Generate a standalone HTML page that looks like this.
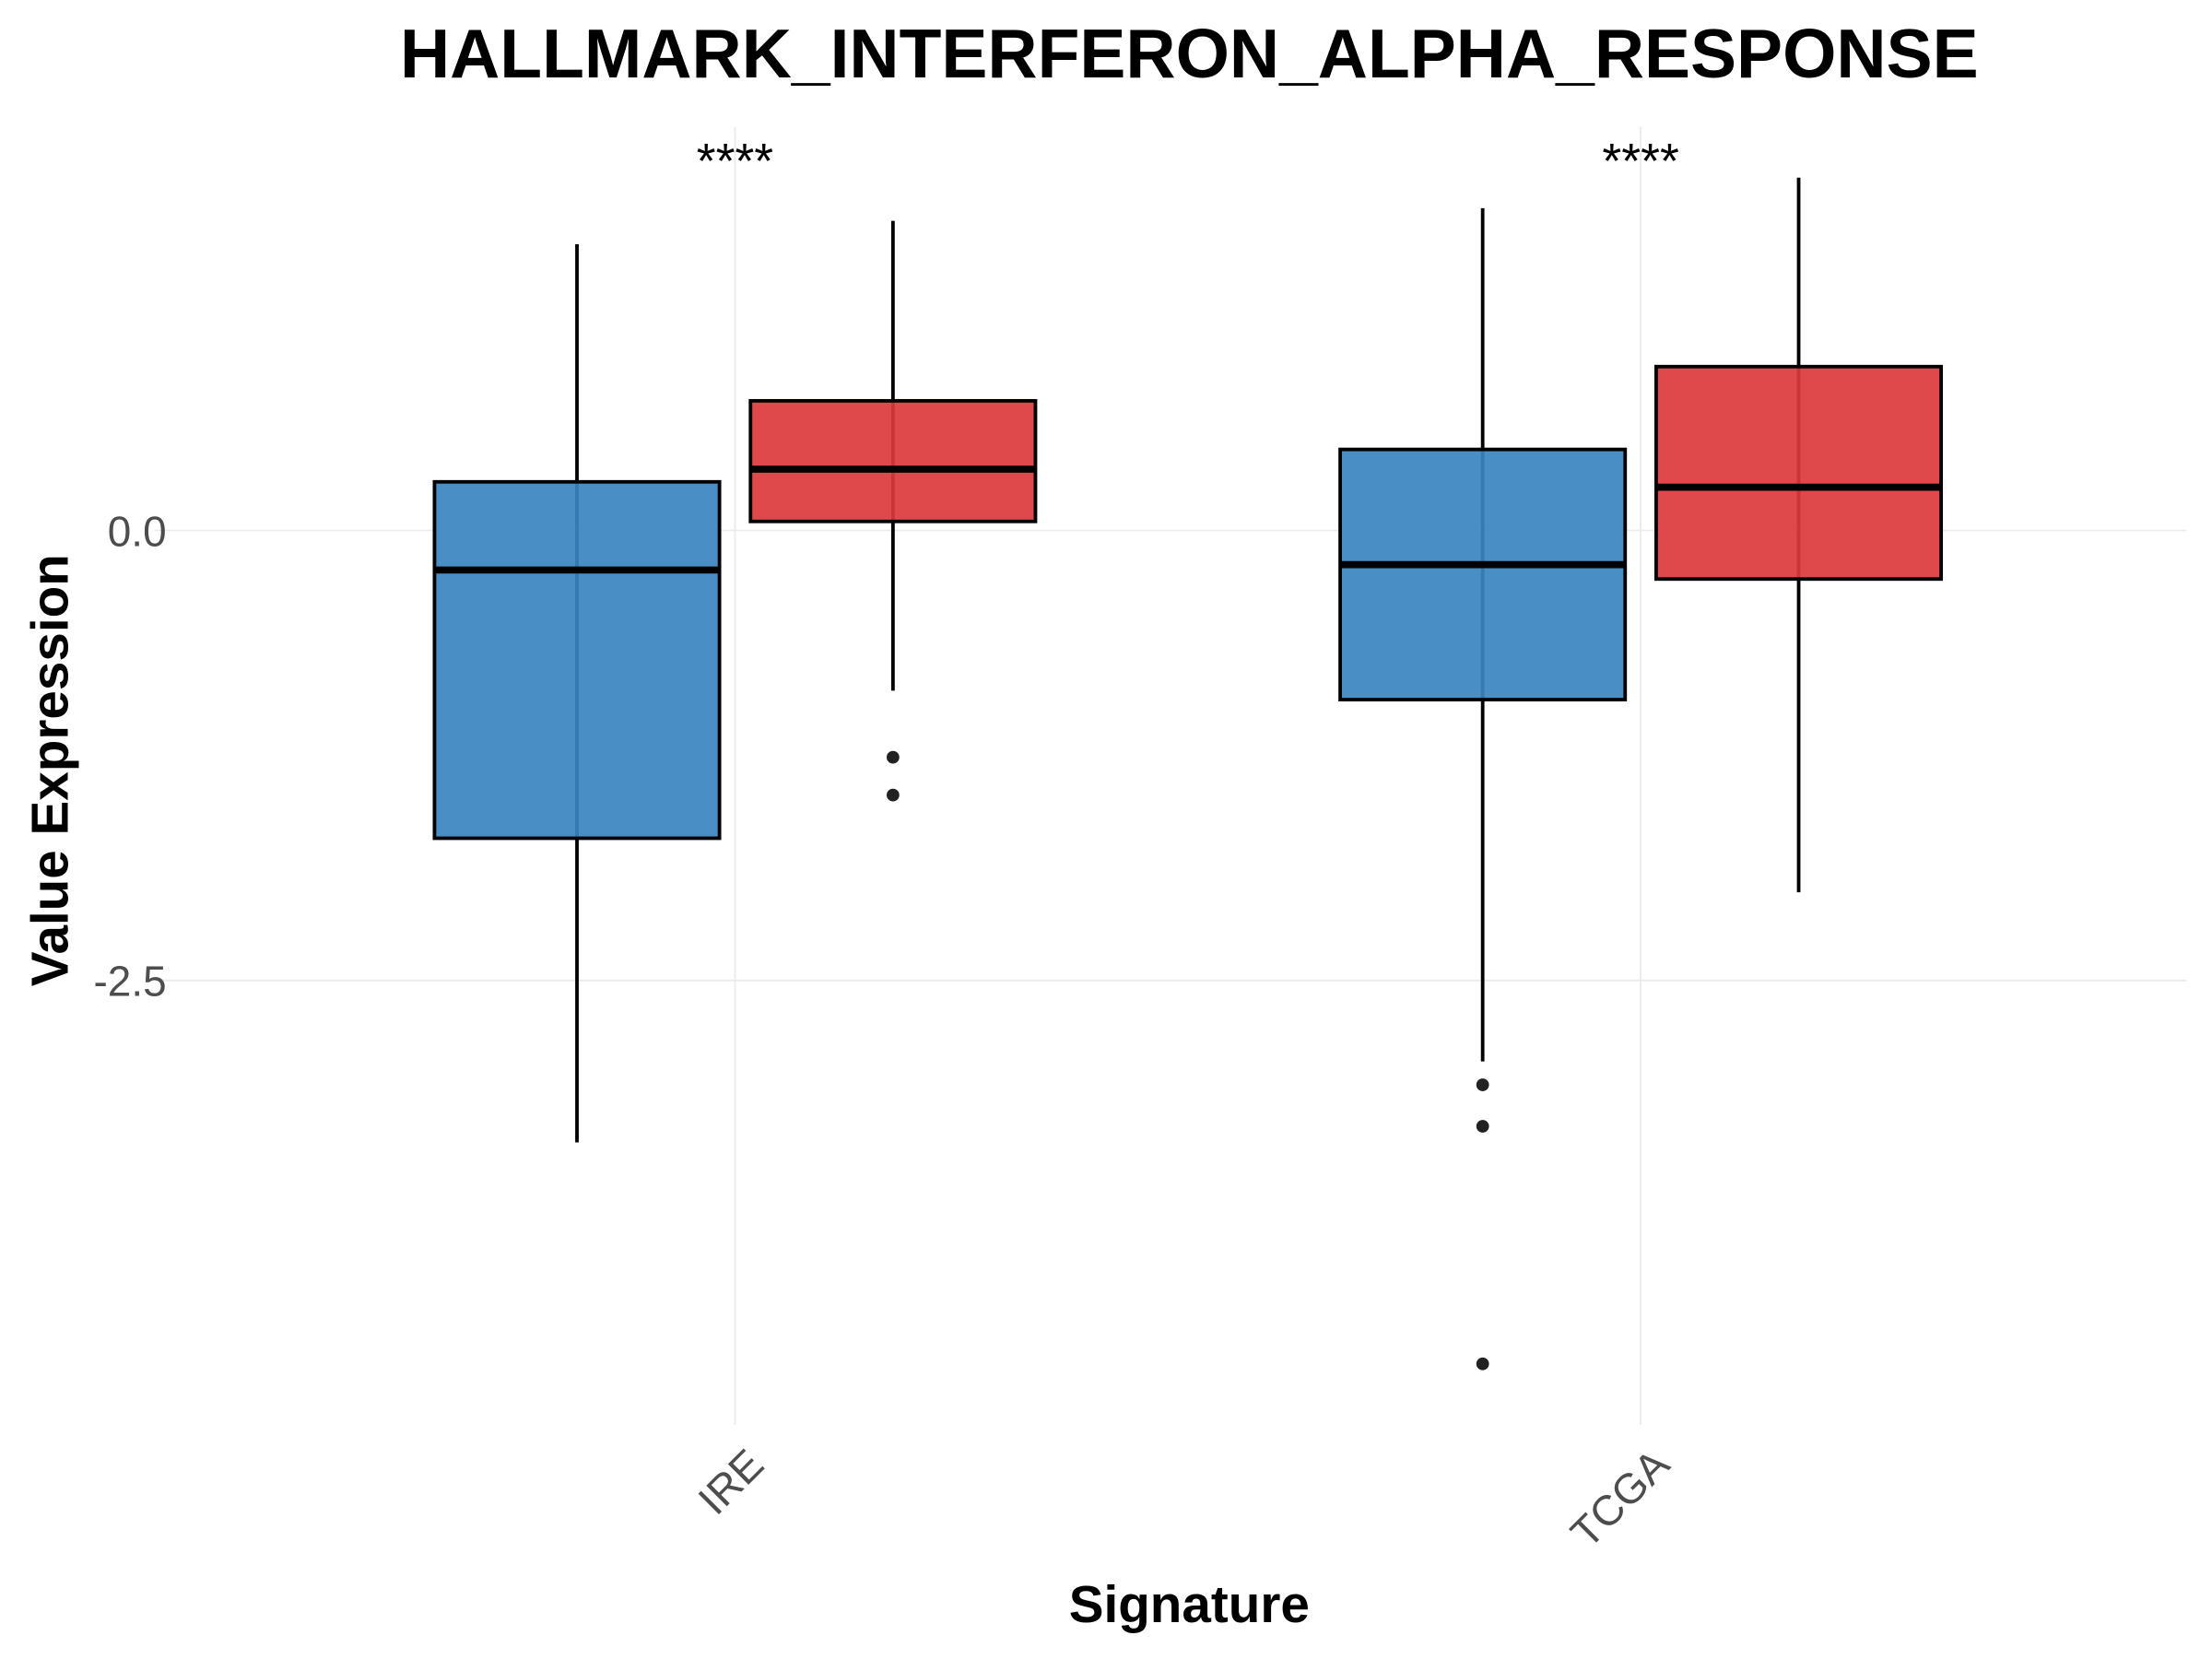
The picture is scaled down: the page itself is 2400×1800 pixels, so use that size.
<!DOCTYPE html>
<html><head><meta charset="utf-8"><style>html,body{margin:0;padding:0;background:#fff}svg{display:block}</style></head>
<body>
<svg id="chart" width="2400" height="1800" viewBox="0 0 1568 1176" xmlns="http://www.w3.org/2000/svg" font-family="Liberation Sans, Arial, sans-serif">
<rect width="1568" height="1176" fill="#fff"/>
<text x="843" y="55" text-anchor="middle" font-size="49" font-weight="bold">HALLMARK_INTERFERON_ALPHA_RESPONSE</text>
<g id="grid"></g>
<g id="marks"></g>
<text x="843" y="1150" text-anchor="middle" font-size="37" font-weight="bold">Signature</text>
<text transform="translate(48,546) rotate(-90)" text-anchor="middle" font-size="37" font-weight="bold">Value Expression</text>
</svg>
<script>
const categories = ["IRE", "TCGA"];
const groups = ["blue", "red"];
const whiskerHigh = [[1.59, 1.72], [1.79, 1.96]];
const q3 = [[0.27, 0.72], [0.45, 0.91]];
const median = [[-0.22, 0.34], [-0.19, 0.24]];
const q1 = [[-1.71, 0.05], [-0.94, -0.27]];
const whiskerLow = [[-3.40, -0.89], [-2.95, -2.01]];
const outliers = [[[], [-1.26, -1.47]], [[-3.08, -3.31, -4.63], []]];
const significance = ["****", "****"];
const yTicks = [0, -2.5];
const yTickLabels = ["0.0", "-2.5"];

const NS = "http://www.w3.org/2000/svg";
const colors = ["#3a86c0", "#dc3a3d"];
const yScale = v => 376 - v * 127.6;
const xCat = i => 521 + i * 642;
const boxW = 202, offset = 112;
const grid = document.getElementById('grid');
const marks = document.getElementById('marks');
function mk(tag, attrs, parent) {
  const e = document.createElementNS(NS, tag);
  for (const k in attrs) e.setAttribute(k, attrs[k]);
  parent.appendChild(e);
  return e;
}
yTicks.forEach((t, i) => {
  const gl = mk('line', {x1: 110, x2: 1550, y1: yScale(t), y2: yScale(t), stroke: '#ebebeb', 'stroke-width': 1.2}, grid);
  
  
  const tl = mk('text', {x: 118, y: yScale(t) + 11, 'text-anchor': 'end', 'font-size': 30, fill: '#4d4d4d'}, grid);
  tl.textContent = yTickLabels[i];
  
  
});
categories.forEach((c, i) => {
  const x = xCat(i);
  const vl = mk('line', {x1: x, x2: x, y1: 90, y2: 1010, stroke: '#ebebeb', 'stroke-width': 1.2}, grid);
  
  
  const xl = mk('text', {transform: `translate(${x + 22},1040) rotate(-45)`, 'text-anchor': 'end', 'font-size': 30, fill: '#4d4d4d'}, grid);
  xl.textContent = c;
  
  
  const st = mk('text', {x: x, y: 126, 'text-anchor': 'middle', 'font-size': 35}, marks);
  st.textContent = significance[i];
  
  
  groups.forEach((g, j) => {
    const cx = x + (j === 0 ? -offset : offset);
    const wl = mk('line', {x1: cx, x2: cx, y1: yScale(whiskerHigh[i][j]), y2: yScale(whiskerLow[i][j]), stroke: '#000', 'stroke-width': 2.5}, marks);
    
    
    const b = mk('rect', {x: cx - boxW / 2, y: yScale(q3[i][j]), width: boxW, height: yScale(q1[i][j]) - yScale(q3[i][j]), fill: colors[j], 'fill-opacity': 0.92, stroke: '#000', 'stroke-width': 2.5}, marks);
    
    
    const m = mk('line', {x1: cx - boxW / 2, x2: cx + boxW / 2, y1: yScale(median[i][j]), y2: yScale(median[i][j]), stroke: '#000', 'stroke-width': 5}, marks);
    
    
    outliers[i][j].forEach(o => {
      const p = mk('circle', {cx: cx, cy: yScale(o), r: 4.5, fill: '#222'}, marks);
      
      
    });
  });
});
</script>
</body></html>
